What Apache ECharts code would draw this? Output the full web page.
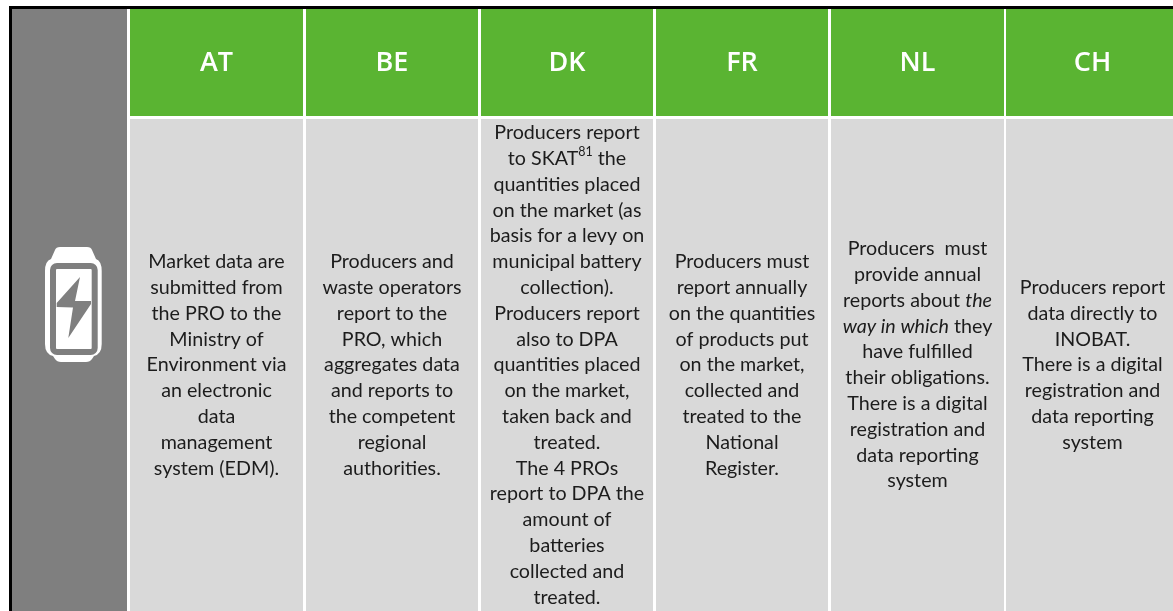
<!DOCTYPE html>
<html>
<head>
<meta charset="utf-8">
<title>Battery reporting by country</title>
<script src="https://cdn.jsdelivr.net/npm/echarts@6/dist/echarts.min.js"></script>
<style>
  html, body { margin: 0; padding: 0; background: #fff; }
  #chart { width: 1173px; height: 611px; }
</style>
</head>
<body>
<div id="chart"></div>
<script>
const countries = ["AT", "BE", "DK", "FR", "NL", "CH"];

const atLines = ["Market data are", "submitted from", "the PRO to the", "Ministry of", "Environment via", "an electronic", "data", "management", "system (EDM)."];
const beLines = ["Producers and", "waste operators", "report to the", "PRO, which", "aggregates data", "and reports to", "the competent", "regional", "authorities."];
const dkLines = ["Producers report", "to SKAT{sup|81} the", "quantities placed", "on the market (as", "basis for a levy on", "municipal battery", "collection).", "Producers report", "also to DPA", "quantities placed", "on the market,", "taken back and", "treated.", "The 4 PROs", "report to DPA the", "amount of", "batteries", "collected and", "treated."];
const frLines = ["Producers must", "report annually", "on the quantities", "of products put", "on the market,", "collected and", "treated to the", "National", "Register."];
const nlLines = ["Producers  must", "provide annual", "reports about {em|the}", "{em|way in which} they", "have fulfilled", "their obligations.", "There is a digital", "registration and", "data reporting", "system"];
const chLines = ["Producers report", "data directly to", "INOBAT.", "There is a digital", "registration and", "data reporting", "system"];

const bodyLines = [atLines, beLines, dkLines, frLines, nlLines, chLines];

const GREEN = "#5ab432";
const GREY = "#7f7f7f";
const BODY = "#d9d9d9";
const TEXT = "#1c1c1c";
const BODY_FONT = "Lato";
const BODY_SIZE = 19.7;
const GAP = 3;

function cellRect(api, index) {
  const band = api.size([1, 0])[0];
  const center = api.coord([index, 0]);
  const left = Math.ceil(center[0] - band / 2);
  const right = Math.ceil(center[0] + band / 2) - GAP;
  const top = center[1] - api.size([0, 1])[1] / 2;
  return { x: left, y: Math.round(top), width: right - left, height: Math.round(api.size([0, 1])[1]) };
}

function renderHeader(params, api) {
  const index = api.value(0);
  const rect = cellRect(api, index);
  return {
    type: "group",
    children: [
      { type: "rect", shape: rect, style: { fill: GREEN } },
      {
        type: "text",
        style: {
          x: rect.x + rect.width / 2,
          y: rect.y + rect.height / 2 + 0.5,
          text: countries[index],
          fill: "#fff",
          font: "600 27px 'Open Sans'",
          align: "center",
          verticalAlign: "middle",
        },
      },
    ],
  };
}

function renderBody(params, api) {
  const index = api.value(0);
  const rect = cellRect(api, index);
  const baseStyle = { fontFamily: BODY_FONT, fontSize: BODY_SIZE, lineHeight: 25.8, fill: TEXT };
  return {
    type: "group",
    children: [
      { type: "rect", shape: rect, style: { fill: BODY } },
      {
        type: "text",
        style: {
          x: rect.x + rect.width / 2,
          y: 365,
          text: bodyLines[index].join("\n"),
          fill: TEXT,
          fontFamily: BODY_FONT,
          fontSize: BODY_SIZE,
          lineHeight: 25.8,
          align: "center",
          verticalAlign: "middle",
          rich: {
            em: Object.assign({}, baseStyle, { fontStyle: "italic" }),
            sup: Object.assign({}, baseStyle, { fontSize: 12.5, verticalAlign: "top", lineHeight: 20 }),
          },
        },
      },
    ],
  };
}

function renderIconCell(params, api) {
  const size = api.size([1, 1]);
  const center = api.coord([0, 0]);
  const x = center[0] - size[0] / 2;
  const y = center[1] - size[1] / 2;
  return {
    type: "group",
    children: [
      { type: "rect", shape: { x: x, y: y, width: size[0], height: size[1] }, style: { fill: GREY } },
      // battery icon, offsets are from the cell's corner
      {
        type: "group",
        x: x,
        y: y,
        children: [
          {
            type: "path",
            shape: {
              pathData: "M33 262 Q33 252 39 250 L43 241 Q44 238 48 238 L75 238 Q79 238 80 241 L84 250 Q89.7 252 89.7 262 L89.7 335 Q89.7 345 82 347 L80 350 Q78 353 74 353 L49 353 Q45 353 43 350 L41 347 Q33 345 33 335 Z",
              x: 33, y: 238, width: 56.7, height: 115,
            },
            style: { fill: "#fff" },
          },
          { type: "rect", shape: { x: 41, y: 257, width: 41.7, height: 86, r: 4 }, style: { fill: "#fff", stroke: GREY, lineWidth: 6 } },
          {
            type: "polygon",
            shape: { points: [[68, 268], [44.7, 294], [44.7, 298], [61, 298.5], [56.3, 329], [79, 295], [79, 292], [63, 292]] },
            style: { fill: GREY },
          },
        ],
      },
    ],
  };
}

const chart = echarts.init(document.getElementById("chart"), null, { renderer: "canvas" });

function hiddenAxis(type, gridIndex, data) {
  const axis = { type: type, gridIndex: gridIndex, show: false };
  if (data) {
    axis.data = data;
  }
  return axis;
}

chart.setOption({
  animation: false,
  backgroundColor: "#fff",
  graphic: [
    { type: "rect", shape: { x: 9, y: 6, width: 1164, height: 3 }, style: { fill: "#000" }, silent: true },
    { type: "rect", shape: { x: 9, y: 6, width: 3, height: 605 }, style: { fill: "#000" }, silent: true },
  ],
  grid: [
    { left: 12, top: 9, width: 115, height: 602, outerBoundsMode: "none" },
    { left: 130, top: 9, width: 1051.2, height: 107, outerBoundsMode: "none" },
    { left: 130, top: 119, width: 1051.2, height: 492, outerBoundsMode: "none" },
  ],
  xAxis: [
    hiddenAxis("category", 0, ["icon"]),
    hiddenAxis("category", 1, countries),
    hiddenAxis("category", 2, countries),
  ],
  yAxis: [
    hiddenAxis("category", 0, ["row"]),
    hiddenAxis("category", 1, ["header"]),
    hiddenAxis("category", 2, ["body"]),
  ],
  series: [
    {
      type: "custom",
      xAxisIndex: 0,
      yAxisIndex: 0,
      silent: true,
      clip: false,
      renderItem: renderIconCell,
      encode: { x: 0, y: 1 },
      data: [[0, 0]],
    },
    {
      type: "custom",
      xAxisIndex: 1,
      yAxisIndex: 1,
      silent: true,
      renderItem: renderHeader,
      encode: { x: 0, y: 1 },
      data: countries.map((c, i) => [i, 0]),
    },
    {
      type: "custom",
      xAxisIndex: 2,
      yAxisIndex: 2,
      silent: true,
      renderItem: renderBody,
      encode: { x: 0, y: 1 },
      data: countries.map((c, i) => [i, 0]),
    },
  ],
});
</script>
</body>
</html>
